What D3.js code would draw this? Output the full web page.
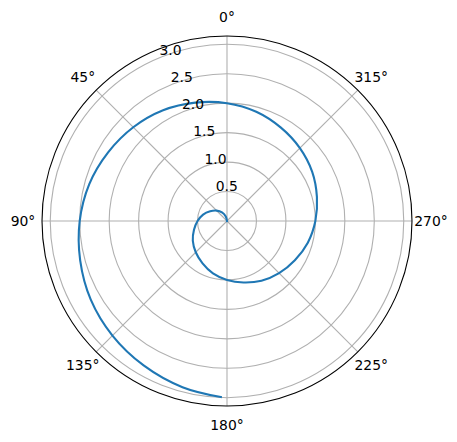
<!DOCTYPE html>
<html>
<head>
<meta charset="utf-8">
<script src="https://cdn.jsdelivr.net/npm/d3@7"></script>
<style>
  body { margin: 0; background: #fff; }
  text { font-family: 'DejaVu Sans', sans-serif; font-size: 13.9px; fill: #000; }
</style>
</head>
<body>
<div id="chart"></div>
<script>
// spiral: angle (deg, counter-clockwise from north) and radius
const thetaDeg = [0, 15, 30, 45, 60, 75, 90, 105, 120, 135, 150, 165, 180, 195, 210, 225, 240, 255, 270,
  285, 300, 315, 330, 345, 360, 375, 390, 405, 420, 435, 450, 465, 480, 495, 510, 525, 538]
const radius = [0, 0.08, 0.17, 0.25, 0.33, 0.42, 0.5, 0.58, 0.67, 0.75, 0.83, 0.92, 1.0, 1.08, 1.17, 1.25, 1.33, 1.42, 1.5,
  1.58, 1.67, 1.75, 1.83, 1.92, 2.0, 2.08, 2.17, 2.25, 2.33, 2.42, 2.5, 2.58, 2.67, 2.75, 2.83, 2.92, 2.99]

const rTicks = [0.5, 1.0, 1.5, 2.0, 2.5, 3.0]
const thetaTicks = [0, 45, 90, 135, 180, 225, 270, 315]
const rMax = 3.14

const width = 457
const height = 442
const cx = 227
const cy = 221
const outerR = 185

const svg = d3
  .select('#chart')
  .append('svg')
  .attr('width', width)
  .attr('height', height)

const g = svg.append('g').attr('transform', 'translate(' + cx + ',' + cy + ')')

const rScale = d3.scaleLinear().domain([0, rMax]).range([0, outerR])

// counter-clockwise from north -> d3 angle is clockwise from north
const toAngle = deg => (-deg * Math.PI) / 180

// radial grid rings
g.selectAll('.ring')
  .data(rTicks)
  .enter()
  .append('circle')
  .attr('class', 'ring')
  .attr('r', d => rScale(d))
  .attr('fill', 'none')
  .attr('stroke', '#b0b0b0')
  .attr('stroke-width', 1.1)

// angular grid lines
g.selectAll('.spoke')
  .data(thetaTicks)
  .enter()
  .append('line')
  .attr('class', 'spoke')
  .attr('x1', 0)
  .attr('y1', 0)
  .attr('x2', d => outerR * Math.sin(toAngle(d)))
  .attr('y2', d => -outerR * Math.cos(toAngle(d)))
  .attr('stroke', '#b0b0b0')
  .attr('stroke-width', 1.1)

// outer frame
g.append('circle')
  .attr('r', outerR)
  .attr('fill', 'none')
  .attr('stroke', '#000')
  .attr('stroke-width', 1.1)

const points = thetaDeg.map((t, i) => ({ theta: t, r: radius[i] }))

const line = d3
  .lineRadial()
  .angle(d => toAngle(d.theta))
  .radius(d => rScale(d.r))
  .curve(d3.curveCatmullRom)

g.append('path')
  .datum(points)
  .attr('d', line)
  .attr('fill', 'none')
  .attr('stroke', '#1f77b4')
  .attr('stroke-width', 2.1)
  .attr('stroke-linejoin', 'round')
  .attr('stroke-linecap', 'square')

// theta labels
g.selectAll('.theta-label')
  .data(thetaTicks)
  .enter()
  .append('text')
  .attr('class', 'theta-label')
  .attr('x', d => (outerR + 19) * Math.sin(toAngle(d)))
  .attr('y', d => -(outerR + 19) * Math.cos(toAngle(d)))
  .attr('text-anchor', 'middle')
  .attr('dominant-baseline', 'central')
  .text(d => d + '°')

// radial labels at 22.5 deg
const labelAngle = toAngle(22.5)
g.selectAll('.r-label')
  .data(rTicks)
  .enter()
  .append('text')
  .attr('class', 'r-label')
  .attr('x', d => rScale(d) * Math.sin(labelAngle))
  .attr('y', d => -rScale(d) * Math.cos(labelAngle) - 3)
  .attr('text-anchor', 'start')
  .text(d => d.toFixed(1))
</script>
</body>
</html>
